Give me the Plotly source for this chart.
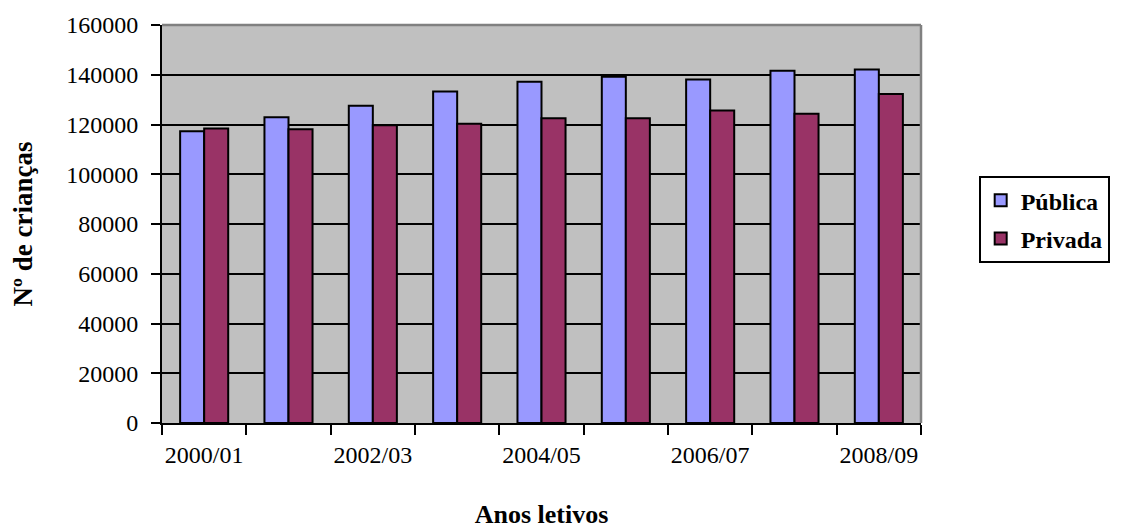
import plotly.graph_objects as go

categories = ["2000/01", "2001/02", "2002/03", "2003/04", "2004/05",
              "2005/06", "2006/07", "2007/08", "2008/09"]
publica = [117300, 122900, 127500, 133300, 137200, 139200, 138100, 141600, 142100]
privada = [118400, 118100, 119700, 120300, 122500, 122500, 125600, 124300, 132300]
tick_labels = ["2000/01", "", "2002/03", "", "2004/05", "", "2006/07", "", "2008/09"]
y_ticks = [0, 20000, 40000, 60000, 80000, 100000, 120000, 140000, 160000]

FONT = "Liberation Serif, Times New Roman, serif"

fig = go.Figure()
fig.add_trace(go.Bar(x=categories, y=publica, name="Pública", legendgroup="a",
                     marker=dict(color="#9999FF", line=dict(color="black", width=2))))
fig.add_trace(go.Bar(x=categories, y=privada, name="Privada", legendgroup="b",
                     marker=dict(color="#993366", line=dict(color="black", width=2))))

# page body has an 8px margin, so the figure is sized/offset to compensate
fig.update_layout(
    width=1113, height=521,
    margin=dict(l=154, r=200, t=17, b=106, autoexpand=False),
    paper_bgcolor="white",
    plot_bgcolor="#C0C0C0",
    barmode="group",
    bargap=0.43,
    bargroupgap=0,
    font=dict(family=FONT, size=24, color="black"),
    legend=dict(
        x=1.076, y=0.62, xanchor="left", yanchor="top",
        bgcolor="white", bordercolor="black", borderwidth=2,
        font=dict(family=FONT, size=24, color="black", weight="bold"),
        itemwidth=30, tracegroupgap=4,
    ),
    xaxis=dict(
        type="category",
        tickmode="array", tickvals=categories, ticktext=tick_labels,
        tickson="boundaries", ticks="outside", ticklen=10, tickwidth=2, tickcolor="black",
        showline=True, linecolor="black", linewidth=2,
        showgrid=False, tickangle=0, automargin=False,
        tickfont=dict(family=FONT, size=24, color="black"),
        ticklabelstandoff=9,
        title=dict(text="Anos letivos", standoff=39,
                   font=dict(family=FONT, size=26, color="black", weight="bold")),
    ),
    yaxis=dict(
        range=[0, 160000],
        tickmode="array", tickvals=y_ticks, tickformat="d",
        ticks="outside", ticklen=9, tickwidth=2, tickcolor="black",
        showline=True, linecolor="black", linewidth=2,
        showgrid=True, gridcolor="black", gridwidth=1.6,
        zeroline=False, automargin=False,
        tickfont=dict(family=FONT, size=24, color="black"),
        ticklabelstandoff=8,
        title=dict(text="Nº de crianças", standoff=30,
                   font=dict(family=FONT, size=27, color="black", weight="bold")),
    ),
    shapes=[
        dict(type="line", xref="paper", yref="paper", x0=0, x1=1, y0=1, y1=1,
             line=dict(color="#808080", width=2.5), layer="above"),
        dict(type="line", xref="paper", yref="paper", x0=1, x1=1, y0=0, y1=1,
             line=dict(color="#808080", width=2.5), layer="above"),
    ],
)

fig.write_html("out.html")
